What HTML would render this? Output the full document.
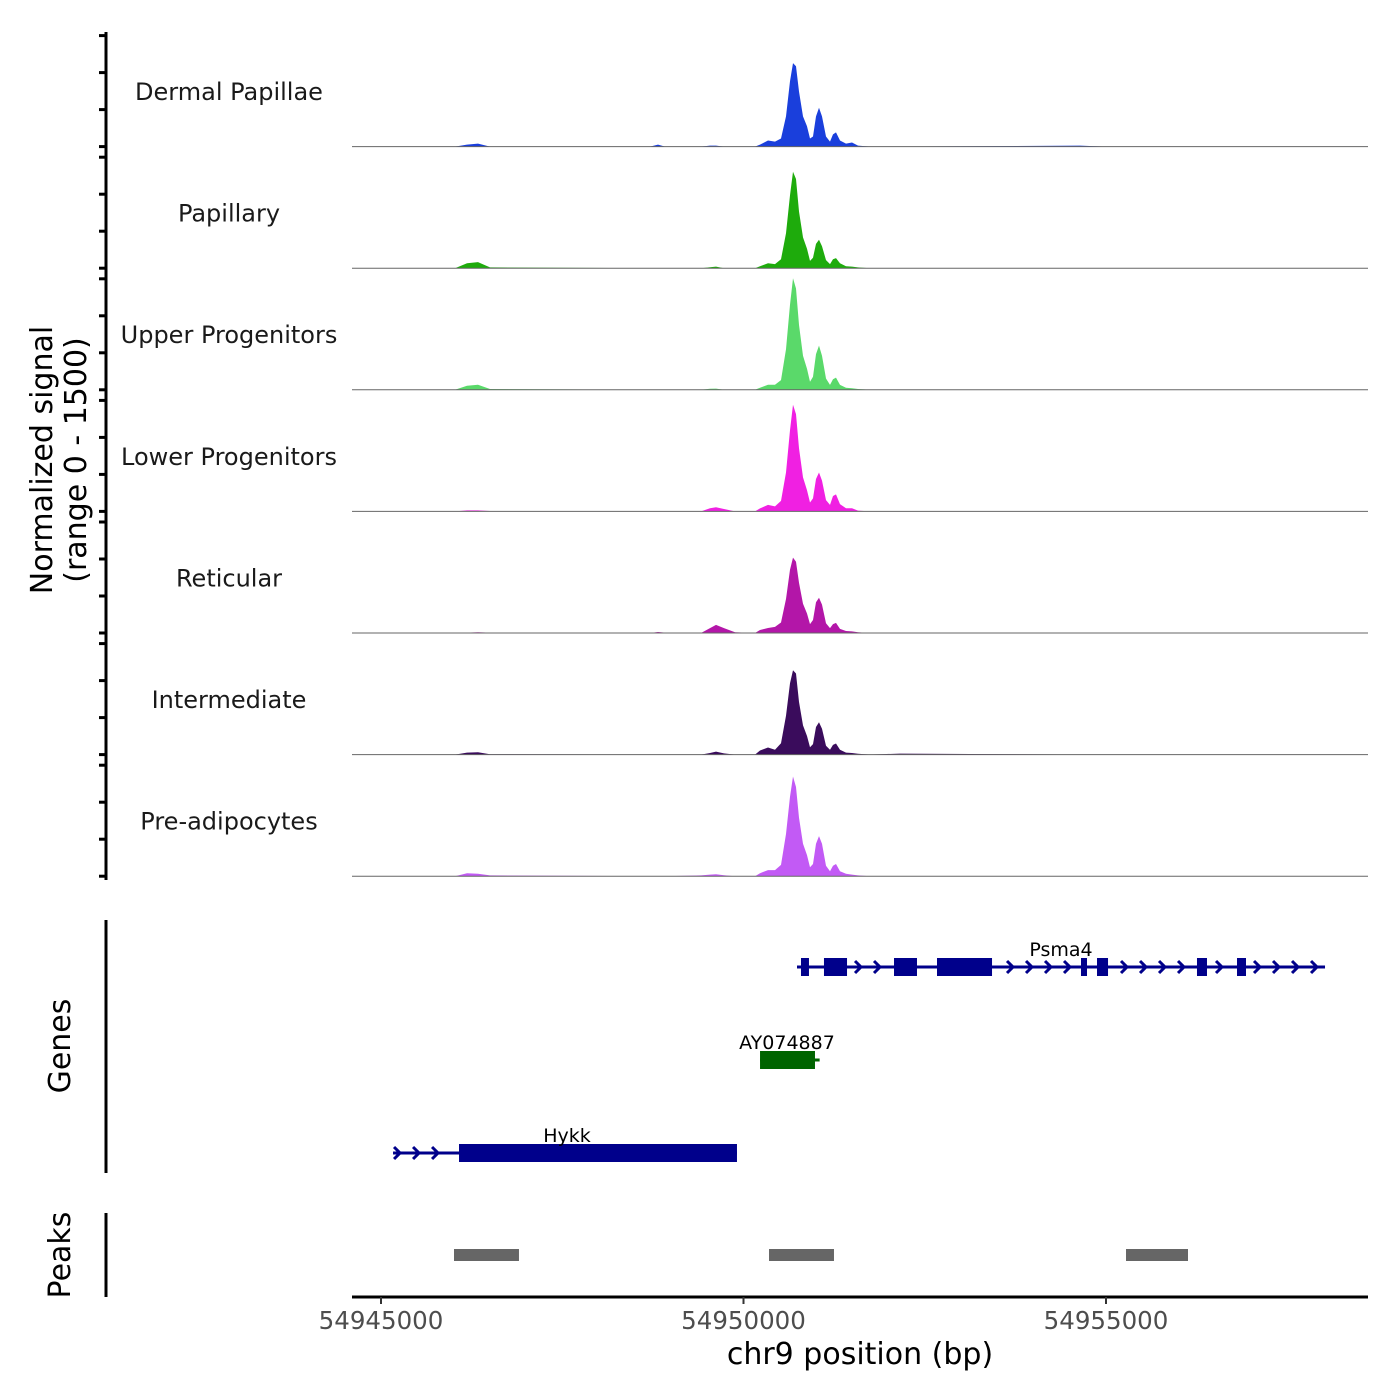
<!DOCTYPE html>
<html><head><meta charset="utf-8">
<style>
html,body{margin:0;padding:0;background:#fff;}
svg{display:block;font-family:"DejaVu Sans","Liberation Sans",sans-serif;}
</style></head>
<body>
<svg id="chart" width="1400" height="1400" viewBox="0 0 1400 1400" xmlns="http://www.w3.org/2000/svg">
<rect width="1400" height="1400" fill="#fff"/>
<g id="tracks"></g>
<g id="genes"></g>
<g id="peaks"></g>
<g id="axes"></g>
<text transform="translate(52,460) rotate(-90)" font-size="30" text-anchor="middle" fill="#000">Normalized signal</text>
<text transform="translate(86,460) rotate(-90)" font-size="30" text-anchor="middle" fill="#000">(range 0 - 1500)</text>
<text transform="translate(70,1046) rotate(-90)" font-size="30" text-anchor="middle" fill="#000">Genes</text>
<text transform="translate(70,1255) rotate(-90)" font-size="30" text-anchor="middle" fill="#000">Peaks</text>
<text x="860" y="1364" font-size="30" text-anchor="middle" fill="#000">chr9 position (bp)</text>
</svg>
<script>
const positions = [54944600,54946021,54946186,54946338,54946503,54948710,54948821,54948917,54949414,54949538,54949621,54949731,54949883,54950159,54950228,54950338,54950434,54950517,54950586,54950641,54950683,54950724,54950766,54950821,54950876,54950917,54950959,54951000,54951041,54951083,54951138,54951193,54951234,54951276,54951331,54951414,54951497,54951579,54951745,54952159,54954641,54954986,54955745,54958614];
const trackNames = ["Dermal Papillae","Papillary","Upper Progenitors","Lower Progenitors","Reticular","Intermediate","Pre-adipocytes"];
const trackColors = ["#1a3fdc","#1eab0c","#5ad96a","#f020e2","#b316a8","#3a0c5c","#c25af5"];
const dermal =   [0,0,25,37,0,0,25,0,0,12,12,0,0,0,25,75,62,100,372,806,1030,990,680,372,250,100,124,372,480,372,124,62,150,175,75,37,50,12,0,0,12,0,0,0];
const papillary= [0,0,60,75,10,0,0,0,0,12,20,0,0,0,25,62,50,110,430,900,1190,1100,700,380,240,90,130,300,350,270,100,50,110,125,60,25,20,10,0,0,0,0,0,0];
const upper =    [0,0,50,62,10,0,0,0,0,12,15,0,0,0,25,62,62,120,500,1050,1375,1250,800,420,260,100,160,440,545,420,140,60,130,150,60,25,20,10,0,0,0,0,0,0];
const lower =    [0,0,12,12,5,0,5,0,0,40,50,30,0,0,37,80,62,130,480,1000,1315,1200,780,420,260,110,160,400,480,380,140,80,190,210,90,40,40,10,0,0,0,0,0,0];
const reticular= [0,0,5,10,5,0,12,5,0,60,100,60,10,0,37,62,75,130,420,780,930,880,620,360,240,110,160,380,435,350,120,60,110,125,50,25,20,10,0,0,0,0,0,0];
const intermed = [0,0,25,30,5,0,0,0,0,20,37,15,0,0,50,87,60,140,480,880,1040,1000,650,360,230,90,130,340,400,320,110,60,120,137,60,25,20,10,0,12,0,0,0,0];
const preadip =  [0,0,37,30,10,0,0,0,10,20,25,12,0,0,37,75,75,140,520,980,1230,1100,720,400,260,110,150,400,495,400,130,60,130,150,60,30,20,10,0,0,0,0,0,0];
const trackValues = [dermal,papillary,upper,lower,reticular,intermed,preadip];
const xTicks = [54945000,54950000,54955000];
const xTickLabels = ["54945000","54950000","54955000"];
const psma4Span = [54950738,54958021];
const psma4Exons = [[54950793,54950903],[54951110,54951428],[54952076,54952393],[54952669,54953428],[54954655,54954738],[54954876,54955028],[54956255,54956393],[54956807,54956931]];
const ayExon = [54950228,54950986];
const aySpan = [54950228,54951050];
const hykkSpan = [54945166,54949910];
const hykkExon = [54946076,54949910];
const peakRegions = [[54946007,54946903],[54950352,54951248],[54955276,54956131]];

const NS="http://www.w3.org/2000/svg";
const X0=381, XS=0.0725, B0=54945000;
function x(bp){return X0+(bp-B0)*XS;}
const TRACK_H=121.6, TOP=25, YMAX=1500;
function yOf(i,v){const base=TOP+TRACK_H*(i+1);return base - v/YMAX*TRACK_H;}
function mk(tag,attrs,parent){const e=document.createElementNS(NS,tag);for(const k in attrs)e.setAttribute(k,attrs[k]);parent.appendChild(e);return e;}

const tracks=document.getElementById('tracks');
trackValues.forEach((vals,i)=>{
  const base=TOP+TRACK_H*(i+1);
  let d=`M${x(positions[0])},${base}`;
  vals.forEach((v,j)=>{d+=` L${x(positions[j]).toFixed(1)},${yOf(i,v).toFixed(1)}`;});
  d+=` L${x(positions[positions.length-1])},${base} Z`;
  const p=mk('path',{d:d,fill:trackColors[i]},tracks);
  
  
  const l=mk('line',{x1:352,x2:1368,y1:base,y2:base,stroke:'#666','stroke-width':1},tracks);
  
  
  const t=mk('text',{x:229,y:base-TRACK_H+75,'font-size':24,'text-anchor':'middle',fill:'#1a1a1a'},tracks);
  t.textContent=trackNames[i];
  
  
});

const axes=document.getElementById('axes');
function line(x1,y1,x2,y2,w,c,name){const l=mk('line',{x1,y1,x2,y2,stroke:c||'#000','stroke-width':w||2},axes);return l;}
line(106,32,106,880,3,'#000','signal-y-axis');
for(let i=0;i<7;i++){const base=TOP+TRACK_H*(i+1);for(let k=0;k<4;k++){const yy=base-k*37;line(99,yy,106,yy,3,'#000','y-tick');}}
line(106,920,106,1173,3,'#000','genes-y-axis');
line(106,1213,106,1297,3,'#000','peaks-y-axis');
line(352,1297,1368,1297,3,'#000','x-axis-line');
xTicks.forEach((t,i)=>{
  line(x(t),1297,x(t),1304,2,'#333','x-tick');
  const tx=mk('text',{x:x(t),y:1329,'font-size':24.5,'text-anchor':'middle',fill:'#4d4d4d'},axes);
  tx.textContent=xTickLabels[i];
  
  
});

const genes=document.getElementById('genes');
function chevrons(s,e,y,color,dir,exons){
  for(let px=x(s)+4;px<x(e)-2;px+=19){
    const inEx=exons.some(ex=>px>x(ex[0])-5&&px<x(ex[1])+5);
    if(inEx)continue;
    const pl=mk('polyline',{points:`${px-3*dir},${y-6} ${px+3*dir},${y} ${px-3*dir},${y+6}`,fill:'none',stroke:color,'stroke-width':3},genes);
    
    
  }
}
function gene(span,exons,y,color,label,lx,dir,name){
  const g=mk('g',{},genes);
  
  
  mk('line',{x1:x(span[0]),x2:x(span[1]),y1:y,y2:y,stroke:color,'stroke-width':3},g);
  exons.forEach(ex=>{const r=mk('rect',{x:x(ex[0]),y:y-9,width:x(ex[1])-x(ex[0]),height:18,fill:color},g);});
  chevrons(span[0],span[1],y,color,dir,exons);
  const t=mk('text',{x:lx,y:y-11,'font-size':19,'text-anchor':'middle',fill:'#000'},g);
  t.textContent=label;
  
  
}
gene(psma4Span,psma4Exons,967,'#00008b','Psma4',1061,1,'gene-psma4');
gene(aySpan,[ayExon],1060,'#006400','AY074887',787,-1,'gene-ay074887');
gene(hykkSpan,[hykkExon],1153,'#00008b','Hykk',567,1,'gene-hykk');

const peaks=document.getElementById('peaks');
peakRegions.forEach(p=>{
  const r=mk('rect',{x:x(p[0]),y:1249,width:x(p[1])-x(p[0]),height:12,fill:'#666'},peaks);
  
  
});
</script>
</body></html>
